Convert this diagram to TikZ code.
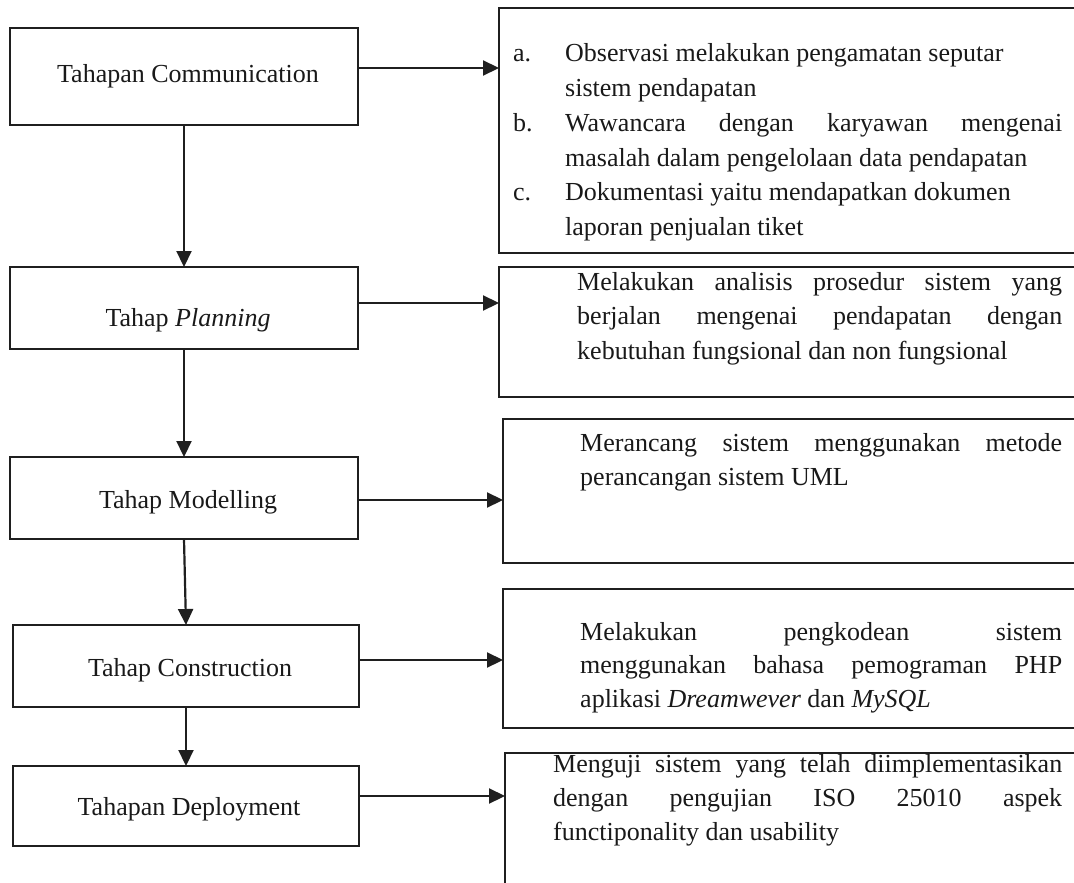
\documentclass[tikz,border=0pt]{standalone}
\usepackage{fontspec}
\setmainfont{Liberation Serif}
\usetikzlibrary{arrows.meta}
\newcommand{\jline}[2]{\makebox[#1][s]{#2}}
\tikzset{
  stage/.style={draw=black!88, line width=1.7pt, minimum width=348pt, inner sep=0pt, outer sep=0pt},
  info/.style={draw=black!88, line width=1.7pt, inner sep=0pt, outer sep=0pt},
  label/.style={anchor=base, inner sep=0pt, text=black!90, font=\fontsize{26}{34.6}\selectfont},
  para/.style={anchor=base west, inner sep=0pt, text=black!90, font=\fontsize{26}{34.6}\selectfont},
  arr/.style={draw=black!88, line width=2.2pt, -{Triangle[length=16pt,width=15pt]}}
}
\begin{document}
\begin{tikzpicture}[x=1pt,y=-1pt]
\useasboundingbox (0,0) rectangle (1074,883);
\clip (0,0) rectangle (1074,883);
% left stage boxes
\node[stage, minimum height=97pt] (b1) at (184,76.5) {};
\node[stage, minimum height=82pt] (b2) at (184,308) {};
\node[stage, minimum height=82pt] (b3) at (184,498) {};
\node[stage, minimum width=346pt, minimum height=82pt] (b4) at (186,666) {};
\node[stage, minimum width=346pt, minimum height=80pt] (b5) at (186,806) {};
\node[label] (t1) at (188,82) {Tahapan Communication};
\node[label] (t2) at (188,326) {Tahap \textit{Planning}};
\node[label] (t3) at (188,508) {Tahap Modelling};
\node[label] (t4) at (190,676) {Tahap Construction};
\node[label] (t5) at (189,815) {Tahapan Deployment};
% right info boxes
\node[info, minimum width=591pt, minimum height=245pt] (r1) at (794.5,130.5) {};
\node[info, minimum width=591pt, minimum height=130pt] (r2) at (794.5,332) {};
\node[info, minimum width=587pt, minimum height=144pt] (r3) at (796.5,491) {};
\node[info, minimum width=587pt, minimum height=139pt] (r4) at (796.5,658.5) {};
\node[info, minimum width=585pt, minimum height=147pt] (r5) at (797.5,826.5) {};
% R1 text
\node[para] (la) at (513,62) {a.};
\node[para] (ia) at (565,62) {\parbox[t]{497pt}{Observasi melakukan pengamatan seputar\\ sistem pendapatan}};
\node[para] (lb) at (513,131.5) {b.};
\node[para] (ib) at (565,131.5) {\parbox[t]{497pt}{\jline{497pt}{Wawancara dengan karyawan mengenai}\\ masalah dalam pengelolaan data pendapatan}};
\node[para] (lc) at (513,200.5) {c.};
\node[para] (ic) at (565,200.5) {\parbox[t]{497pt}{Dokumentasi yaitu mendapatkan dokumen\\ laporan penjualan tiket}};
% R2 text
\node[para] (p2) at (577,290) {\parbox[t]{485pt}{\jline{485pt}{Melakukan analisis prosedur sistem yang}\\ \jline{485pt}{berjalan mengenai pendapatan dengan}\\ kebutuhan fungsional dan non fungsional}};
% R3 text
\node[para] (p3) at (580,451) {\parbox[t]{482pt}{\jline{482pt}{Merancang sistem menggunakan metode}\\ perancangan sistem UML}};
% R4 text
\node[para, font=\fontsize{26}{33.5}\selectfont] (p4) at (580,640) {\parbox[t]{482pt}{\jline{482pt}{Melakukan pengkodean sistem}\\ \jline{482pt}{menggunakan bahasa pemograman PHP}\\ aplikasi \textit{Dreamwever} dan \textit{MySQL}}};
% R5 text
\node[para, font=\fontsize{26}{34.2}\selectfont] (p5) at (553,772) {\parbox[t]{509pt}{\jline{509pt}{Menguji sistem yang telah diimplementasikan}\\ \jline{509pt}{dengan pengujian ISO 25010 aspek}\\ functiponality dan usability}};
% vertical arrows
\draw[arr] (b1.south) -- (b2.north);
\draw[arr] (b2.south) -- (b3.north);
\draw[arr] (b3.south) -- (b4.north);
\draw[arr] (b4.south) -- (b5.north);
% horizontal arrows
\draw[arr] ([yshift=8.5pt]b1.east) coordinate (s1) -- (s1 -| r1.west);
\draw[arr] ([yshift=5pt]b2.east) coordinate (s2) -- (s2 -| r2.west);
\draw[arr] ([yshift=-2pt]b3.east) coordinate (s3) -- (s3 -| r3.west);
\draw[arr] ([yshift=6pt]b4.east) coordinate (s4) -- (s4 -| r4.west);
\draw[arr] ([yshift=10pt]b5.east) coordinate (s5) -- (s5 -| r5.west);
\end{tikzpicture}
\end{document}
